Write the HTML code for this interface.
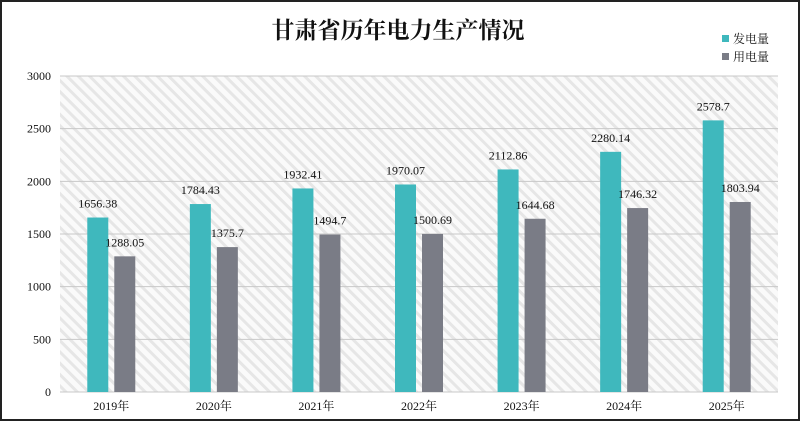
<!DOCTYPE html>
<html><head><meta charset="utf-8"><style>
html,body{margin:0;padding:0;background:#fff}
#wrap{width:800px;height:421px;position:relative;overflow:hidden}
#frame{position:absolute;left:0;top:0;width:800px;height:421px;box-sizing:border-box;border:2px solid #222;pointer-events:none}
svg{position:absolute;left:0;top:0}
text{font-family:"Liberation Serif","Noto Serif CJK SC",serif;fill:#111}
</style></head><body>
<div id="wrap">
<svg id="c" width="800" height="421">
<defs><pattern id="hatch" width="8" height="8" patternUnits="userSpaceOnUse" patternTransform="rotate(-45)">
<rect width="8" height="8" fill="#fafafa"/><rect width="3" height="8" fill="#e6e6e6"/></pattern></defs>
</svg>
<div id="frame"></div>
</div>
<script>
const categories=["2019年","2020年","2021年","2022年","2023年","2024年","2025年"];
const genValues=[1656.38,1784.43,1932.41,1970.07,2112.86,2280.14,2578.7];
const useValues=[1288.05,1375.7,1494.7,1500.69,1644.68,1746.32,1803.94];
const yTicks=[0,500,1000,1500,2000,2500,3000];
const seriesNames=["发电量","用电量"];
const colors=["#3fb8bd","#7a7c86"];
const svg=document.getElementById('c');
const NS="http://www.w3.org/2000/svg";
const L=60,R=778,T=76,B=392,yMax=3000;
const y=v=>B-(v/yMax)*(B-T);
const band=(R-L)/categories.length;
const x=i=>L+band*i+band/2;
function mk(t,a,p){const e=document.createElementNS(NS,t);for(const k in a)e.setAttribute(k,a[k]);(p||svg).appendChild(e);return e;}
const bg=mk('rect',{x:L,y:T,width:R-L,height:B-T,fill:'url(#hatch)'});


const title=mk('text',{x:398,y:38,'text-anchor':'middle','font-size':23,'font-weight':'bold'});
title.textContent='甘肃省历年电力生产情况';


yTicks.forEach(v=>{
 const g=mk('line',{x1:L,x2:R,y1:y(v),y2:y(v),stroke:'#c8c8c8','stroke-width':1});
 
 
 const t=mk('text',{x:L-9,y:y(v)+4,'text-anchor':'end','font-size':12});
 t.textContent=v;
 
 
});
const bw=21,gap=6;
categories.forEach((c,i)=>{
 const cx=x(i);
 [genValues[i],useValues[i]].forEach((v,s)=>{
  const bx=s===0?cx-gap/2-bw:cx+gap/2;
  const r=mk('rect',{x:bx,y:y(v),width:bw,height:B-y(v),fill:colors[s]});
  
  
  const t=mk('text',{x:bx+bw/2,y:y(v)-10,'text-anchor':'middle','font-size':12});
  t.textContent=v;
  
  
 });
 const t=mk('text',{x:cx,y:410,'text-anchor':'middle','font-size':12});
 t.textContent=c;
 
 
});
seriesNames.forEach((n,s)=>{
 const yy=40+s*18;
 const sw=mk('rect',{x:722,y:yy-5,width:7,height:7,fill:colors[s]});
 
 
 const t=mk('text',{x:733,y:yy+3,'font-size':12});
 t.textContent=n;
 
 
});
</script>
</body></html>
